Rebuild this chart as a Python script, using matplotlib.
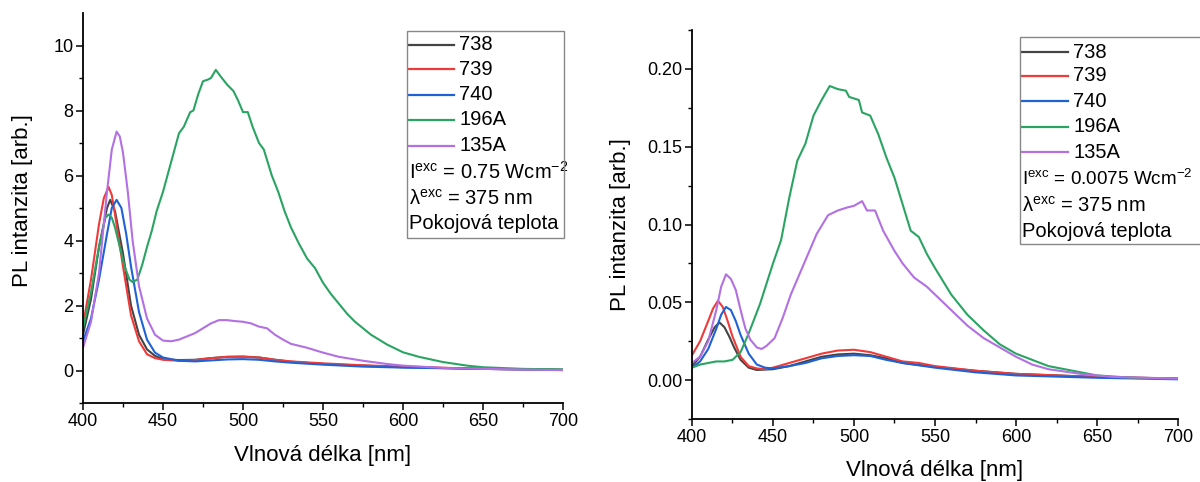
import numpy as np
import matplotlib
matplotlib.use("Agg")
import matplotlib.pyplot as plt
from matplotlib.patches import Rectangle

plt.rcParams['font.family'] = ['Liberation Sans', 'DejaVu Sans']
plt.rcParams['mathtext.fontset'] = 'custom'
plt.rcParams['mathtext.rm'] = 'Liberation Sans'

names = ['738', '739', '740', '196A', '135A']
colors = ['#444444', '#f03a3a', '#1f62d6', '#2aa462', '#b270e2']

# ---- left panel (0.75 W/cm2) ----
wl_738_a = [400, 405, 410, 415, 417, 420, 425, 430, 435, 440, 445, 450, 460, 470, 480, 490, 500, 510, 520, 530, 550, 575, 600, 650, 700]
pl_738_a = [1.1, 2.2, 3.8, 5.0, 5.25, 4.9, 3.6, 2.0, 1.1, 0.65, 0.45, 0.35, 0.32, 0.33, 0.38, 0.42, 0.43, 0.4, 0.33, 0.27, 0.2, 0.15, 0.1, 0.05, 0.02]
wl_739_a = [400, 405, 410, 413, 416, 418, 420, 425, 430, 435, 440, 445, 450, 460, 470, 480, 490, 500, 510, 520, 530, 550, 575, 600, 650, 700]
pl_739_a = [1.4, 2.8, 4.5, 5.3, 5.65, 5.4, 4.8, 3.2, 1.7, 0.9, 0.5, 0.38, 0.33, 0.3, 0.32, 0.38, 0.42, 0.42, 0.4, 0.33, 0.28, 0.22, 0.16, 0.12, 0.05, 0.02]
wl_740_a = [400, 405, 410, 415, 418, 421, 424, 427, 430, 435, 440, 445, 450, 460, 470, 480, 490, 500, 510, 520, 530, 550, 575, 600, 650, 700]
pl_740_a = [0.9, 1.6, 2.8, 4.2, 5.0, 5.25, 5.0, 4.2, 3.2, 1.8, 0.95, 0.55, 0.4, 0.3, 0.28, 0.31, 0.34, 0.35, 0.33, 0.28, 0.24, 0.18, 0.12, 0.09, 0.05, 0.02]
wl_196_a = [400, 405, 410, 414, 416, 418, 420, 423, 426, 429, 431, 434, 437, 440, 443, 446, 450, 455, 460, 463, 467, 469, 472,
            475, 478, 480, 483, 486, 490, 494, 497, 500, 503, 506, 510, 513, 518, 522, 526, 530, 535, 540, 545, 550, 555, 560,
            565, 570, 575, 580, 590, 600, 610, 625, 640, 650, 675, 700]
pl_196_a = [1.3, 2.4, 3.8, 4.7, 4.8, 4.7, 4.4, 3.8, 3.2, 2.8, 2.72, 2.8, 3.25, 3.8, 4.3, 4.9, 5.5, 6.4, 7.3, 7.5, 7.95, 8.0, 8.5,
            8.9, 8.95, 9.0, 9.25, 9.05, 8.8, 8.6, 8.3, 7.95, 7.95, 7.5, 7.0, 6.8, 6.0, 5.5, 4.9, 4.4, 3.9, 3.45, 3.15, 2.7, 2.35, 2.05,
            1.75, 1.5, 1.3, 1.1, 0.8, 0.56, 0.42, 0.26, 0.15, 0.1, 0.05, 0.03]
wl_135_a = [400, 405, 410, 415, 418, 421, 423, 425, 428, 431, 435, 440, 445, 450, 455, 460, 465, 470, 475, 480, 485, 490, 495,
            500, 505, 510, 515, 520, 525, 530, 540, 550, 560, 575, 590, 600, 625, 650, 700]
pl_135_a = [0.7, 1.5, 3.0, 5.5, 6.8, 7.35, 7.2, 6.7, 5.5, 4.0, 2.6, 1.6, 1.1, 0.92, 0.9, 0.95, 1.05, 1.15, 1.3, 1.45, 1.55, 1.55, 1.52,
            1.5, 1.45, 1.35, 1.3, 1.1, 0.95, 0.82, 0.7, 0.55, 0.42, 0.3, 0.2, 0.15, 0.08, 0.05, 0.01]

# ---- right panel (0.0075 W/cm2) ----
wl_738_b = [400, 405, 410, 414, 417, 420, 423, 426, 430, 435, 440, 450, 460, 470, 480, 490, 500, 510, 520, 530, 550, 575, 600, 650, 700]
pl_738_b = [0.009, 0.015, 0.026, 0.034, 0.037, 0.034, 0.028, 0.021, 0.013, 0.008, 0.0065, 0.007, 0.009, 0.012, 0.015, 0.0165, 0.017,
            0.016, 0.014, 0.011, 0.0085, 0.006, 0.004, 0.002, 0.001]
wl_739_b = [400, 405, 410, 413, 416, 419, 422, 425, 430, 435, 440, 445, 450, 460, 470, 480, 490, 500, 510, 520, 530, 540, 550, 575, 600, 650, 700]
pl_739_b = [0.016, 0.025, 0.038, 0.046, 0.051, 0.047, 0.038, 0.028, 0.015, 0.009, 0.0075, 0.007, 0.008, 0.011, 0.014, 0.017, 0.019,
            0.0195, 0.018, 0.015, 0.012, 0.011, 0.009, 0.006, 0.004, 0.002, 0.001]
wl_740_b = [400, 405, 410, 415, 418, 421, 424, 427, 430, 435, 440, 445, 450, 460, 470, 480, 490, 500, 510, 520, 530, 550, 575, 600, 650, 700]
pl_740_b = [0.008, 0.012, 0.02, 0.033, 0.042, 0.047, 0.045, 0.038, 0.029, 0.017, 0.01, 0.008, 0.0075, 0.009, 0.011, 0.014, 0.0155,
            0.016, 0.0155, 0.013, 0.011, 0.008, 0.005, 0.003, 0.0015, 0.0005]
wl_196_b = [400, 405, 410, 415, 420, 425, 430, 435, 442, 446, 450, 455, 460, 465, 470, 475, 480, 485, 490, 495, 497, 500, 503, 505,
            510, 515, 520, 525, 530, 535, 540, 545, 550, 560, 570, 580, 590, 600, 610, 620, 630, 640, 650, 675, 700]
pl_196_b = [0.008, 0.01, 0.011, 0.012, 0.012, 0.013, 0.018, 0.03, 0.049, 0.062, 0.075, 0.09, 0.117, 0.141, 0.152, 0.17, 0.18, 0.189,
            0.187, 0.186, 0.182, 0.181, 0.18, 0.172, 0.17, 0.158, 0.143, 0.13, 0.113, 0.096, 0.092, 0.081, 0.072, 0.055, 0.042,
            0.032, 0.023, 0.017, 0.013, 0.009, 0.007, 0.005, 0.003, 0.0013, 0.001]
wl_135_b = [400, 405, 410, 415, 418, 421, 424, 427, 430, 433, 436, 440, 443, 446, 451, 456, 461, 470, 477, 484, 490, 496, 500, 505,
            508, 513, 518, 525, 530, 537, 545, 550, 560, 570, 580, 590, 600, 610, 620, 640, 660, 700]
pl_135_b = [0.011, 0.015, 0.025, 0.045, 0.06, 0.068, 0.065, 0.058, 0.045, 0.033, 0.026, 0.021, 0.02, 0.022, 0.027, 0.04, 0.055,
            0.077, 0.094, 0.106, 0.109, 0.111, 0.112, 0.115, 0.109, 0.109, 0.096, 0.083, 0.075, 0.066, 0.06, 0.055, 0.045, 0.035,
            0.027, 0.021, 0.015, 0.01, 0.007, 0.004, 0.002, 0.001]

left_data = [(wl_738_a, pl_738_a), (wl_739_a, pl_739_a), (wl_740_a, pl_740_a), (wl_196_a, pl_196_a), (wl_135_a, pl_135_a)]
right_data = [(wl_738_b, pl_738_b), (wl_739_b, pl_739_b), (wl_740_b, pl_740_b), (wl_196_b, pl_196_b), (wl_135_b, pl_135_b)]

fig = plt.figure(figsize=(12, 4.82), dpi=100)
W, H = 1200, 482
ax1 = fig.add_axes([83 / W, 1 - 403 / H, 480 / W, 390 / H])
ax2 = fig.add_axes([692 / W, 1 - 419 / H, 486 / W, 389 / H])


def style(ax, ylim, ymaj, ymin, fmt):
    ax.set_xlim(400, 700)
    ax.set_ylim(*ylim)
    ax.spines['top'].set_visible(False)
    ax.spines['right'].set_visible(False)
    for s in ['left', 'bottom']:
        ax.spines[s].set_linewidth(1.3)
    ax.set_xticks(np.arange(400, 701, 50))
    ax.set_xticks(np.arange(400, 701, 25), minor=True)
    ax.set_yticks(ymaj)
    ax.set_yticks(ymin, minor=True)
    ax.yaxis.set_major_formatter(fmt)
    ax.tick_params(which='major', direction='out', length=5, width=1.1, labelsize=13, pad=2)
    ax.tick_params(which='minor', direction='out', length=3, width=1.0)
    ax.set_xlabel('Vlnová délka [nm]', fontsize=16)
    ax.set_ylabel('PL intanzita [arb.]', fontsize=16)


def legend_box(ax, x0, x1, y0, y1, rows, texts, text_sizes):
    ax.add_patch(Rectangle((x0, y0), x1 - x0, y1 - y0, transform=ax.transAxes, fill=False,
                           edgecolor='#888888', linewidth=1.0, clip_on=False, zorder=5))
    for i, (nm, c) in enumerate(zip(names, colors)):
        y = rows[i]
        ax.plot([x0 + 0.004, x0 + 0.098], [y, y], transform=ax.transAxes, color=c, lw=1.6, clip_on=False)
        ax.text(x0 + 0.109, y, nm, transform=ax.transAxes, fontsize=14.5, va='center', ha='left')
    for t, y, fs in zip(texts, rows[5:], text_sizes):
        ax.text(x0 + 0.004, y, t, transform=ax.transAxes, fontsize=fs, va='center', ha='left')


for (wl, pl), c in zip(left_data, colors):
    ax1.plot(wl, pl, color=c, lw=1.5)
for (wl, pl), c in zip(right_data, colors):
    ax2.plot(wl, pl, color=c, lw=1.5)

style(ax1, (-1, 11), np.arange(0, 11, 2), np.arange(-1, 11, 1), matplotlib.ticker.FormatStrFormatter('%d'))
style(ax2, (-0.025, 0.225), np.arange(0, 0.21, 0.05), np.arange(-0.025, 0.226, 0.025),
      matplotlib.ticker.FormatStrFormatter('%.2f'))

ax1.xaxis.set_label_coords(0.5, -0.108)
ax1.yaxis.set_label_coords(-0.104, 0.52)
ax2.xaxis.set_label_coords(0.5, -0.105)
ax2.yaxis.set_label_coords(-0.126, 0.50)

legend_box(ax1, 0.675, 1.002, 0.423, 0.954,
           [0.918, 0.856, 0.79, 0.726, 0.659, 0.592, 0.523, 0.459],
           [r'I$^{\mathrm{exc}}$ = 0.75 Wcm$^{\mathrm{-2}}$', r'λ$^{\mathrm{exc}}$ = 375 nm', 'Pokojová teplota'],
           [14.5, 14.5, 14.5])
legend_box(ax2, 0.675, 1.06, 0.45, 0.982,
           [0.943, 0.882, 0.817, 0.751, 0.686, 0.617, 0.548, 0.483],
           [r'I$^{\mathrm{exc}}$ = 0.0075 Wcm$^{\mathrm{-2}}$', r'λ$^{\mathrm{exc}}$ = 375 nm', 'Pokojová teplota'],
           [13.6, 14.5, 14.5])

fig.savefig('out.png', dpi=100)
